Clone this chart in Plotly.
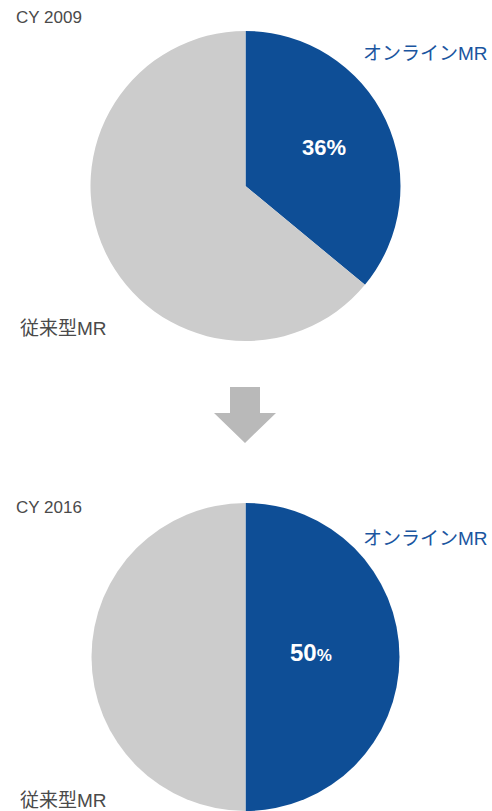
import plotly.graph_objects as go

W, H = 492, 811

# ---- data ----
years = ["CY 2009", "CY 2016"]
categories = ["オンラインMR", "従来型MR"]
online_share = [36, 50]
traditional_share = [64, 50]

BLUE = "#0e4e96"
GREY = "#cccccc"
TEXT_GREY = "#4a4a4a"
LABEL_BLUE = "#1a55a0"
ARROW = "#b9b9b9"
FONT = "Liberation Sans, Arial, Noto Sans CJK JP, sans-serif"


def px(x):
    return x / W


def py(y):
    return 1 - y / H


fig = go.Figure()

domains = [
    dict(x=[px(90.5), px(400.5)], y=[py(341), py(31)]),
    dict(x=[px(91.5), px(399.5)], y=[0, py(503)]),
]

for i in range(2):
    fig.add_trace(go.Pie(
        labels=categories,
        values=[online_share[i], traditional_share[i]],
        sort=False,
        direction="clockwise",
        rotation=0,
        marker=dict(colors=[BLUE, GREY], line=dict(width=0)),
        textinfo="none",
        hoverinfo="label+percent",
        domain=domains[i],
        showlegend=False,
    ))

annotations = []
# layout positions (pixels) for each panel
panel = [
    dict(year=(14, 17), online=(490, 53), trad=(18, 328), pct=(324, 147)),
    dict(year=(14, 507), online=(490, 538), trad=(18, 800), pct=(311, 652)),
]
for i, p in enumerate(panel):
    annotations.append(dict(x=px(p["year"][0]), y=py(p["year"][1]), xref="paper", yref="paper",
                            text=years[i], showarrow=False, xanchor="left", yanchor="middle",
                            font=dict(family=FONT, size=17, color=TEXT_GREY)))
    annotations.append(dict(x=px(p["online"][0]), y=py(p["online"][1]), xref="paper", yref="paper",
                            text=categories[0], showarrow=False, xanchor="right", yanchor="middle",
                            font=dict(family=FONT, size=19, color=LABEL_BLUE)))
    annotations.append(dict(x=px(p["trad"][0]), y=py(p["trad"][1]), xref="paper", yref="paper",
                            text=categories[1], showarrow=False, xanchor="left", yanchor="middle",
                            font=dict(family=FONT, size=19, color=TEXT_GREY)))
    if i == 0:
        pct_text = f"<b>{online_share[i]}%</b>"
        size = 22
    else:
        pct_text = f"<b>{online_share[i]}</b><span style='font-size:17px'><b>%</b></span>"
        size = 24
    annotations.append(dict(x=px(p["pct"][0]), y=py(p["pct"][1]), xref="paper", yref="paper",
                            text=pct_text, showarrow=False, xanchor="center", yanchor="middle",
                            font=dict(family=FONT, size=size, color="white")))

# arrow between the pies
pts = [(230, 387), (260, 387), (260, 413), (276, 413), (245, 443), (214, 413), (230, 413)]
path = "M " + " L ".join(f"{px(x):.5f},{py(y):.5f}" for x, y in pts) + " Z"
fig.add_shape(type="path", path=path, xref="paper", yref="paper",
              fillcolor=ARROW, line=dict(width=0))

fig.update_layout(
    width=W, height=H,
    margin=dict(l=0, r=0, t=0, b=0),
    paper_bgcolor="white",
    plot_bgcolor="white",
    annotations=annotations,
    showlegend=False,
)

fig.write_html(
    "out.html",
    config={"displayModeBar": False},
    post_script="document.body.style.margin='0';document.body.style.overflow='hidden';",
)
